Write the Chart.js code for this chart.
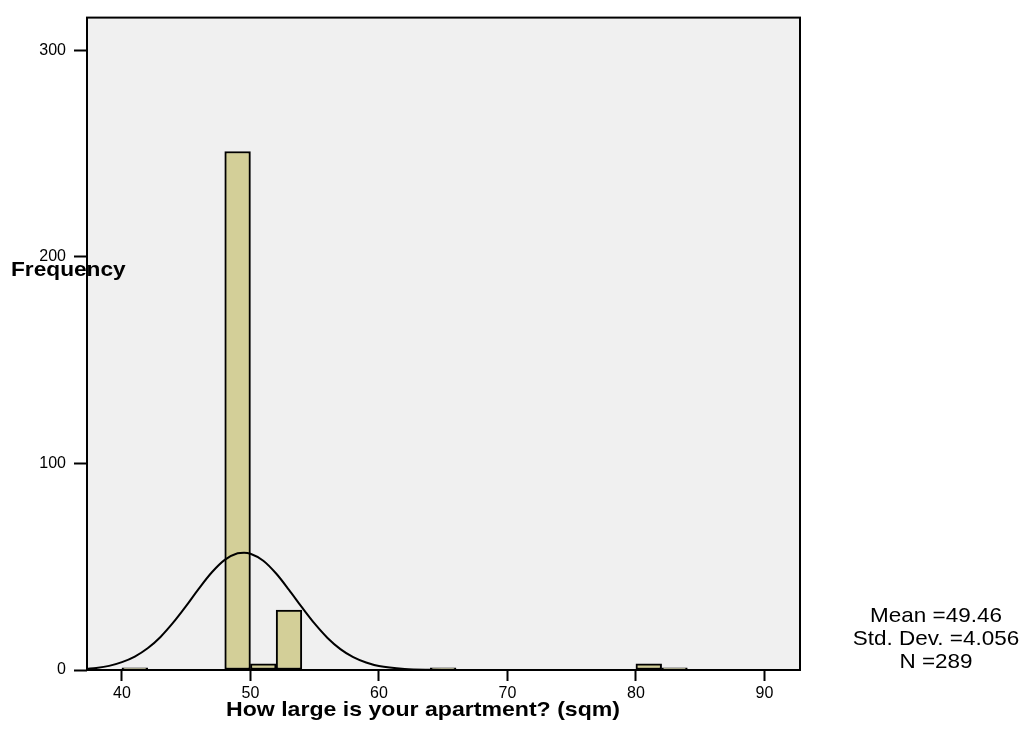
<!DOCTYPE html>
<html>
<head>
<meta charset="utf-8">
<script src="https://cdn.jsdelivr.net/npm/chart.js@4"></script>
<style>
  body { margin: 0; background: #fff; }
  #wrap { width: 1029px; height: 738px; position: relative; }
</style>
</head>
<body>
<div id="wrap"><canvas id="histChart"></canvas></div>
<script>
// Histogram bins (2 sqm wide), only non-empty bins
const binCenters = [41, 49, 51, 53, 65, 81, 83];
const binCounts = [1, 251, 3, 29, 1, 3, 1];

// Normal curve
const curveX = [37.28, 38, 39, 40, 41, 42, 43, 44, 45, 46, 47, 48, 49, 49.5, 50, 51, 52, 53, 54, 55, 56, 57, 58, 59, 60, 62, 64, 66, 70, 80, 92.77];
const curveY = [0.6, 1.0, 2.0, 3.8, 6.5, 10.5, 16.0, 23.0, 31.0, 39.5, 47.3, 53.3, 56.5, 56.8, 56.3, 52.9, 46.7, 38.8, 30.4, 22.4, 15.5, 10.1, 6.2, 3.6, 1.9, 0.5, 0.1, 0, 0, 0, 0];

const statsLines = ["Mean =49.46", "Std. Dev. =4.056", "N =289"];
const yTitle = "Frequency";
const xTitle = "How large is your apartment? (sqm)";

const FONT = "'Liberation Sans', Arial, Helvetica, sans-serif";

// text a little wider than tall, like the original export
function stretchedText(ctx, text, x, y, sx) {
    ctx.save();
    ctx.translate(x, y);
    ctx.scale(sx, 1);
    ctx.fillText(text, 0, 0);
    ctx.restore();
}

// background, frame and the free-standing labels
const spssDecor = {
    id: "spssDecor",
    beforeDraw(chart) {
        const { ctx, chartArea: a } = chart;
        ctx.save();
        ctx.fillStyle = "#f0f0f0";
        ctx.fillRect(a.left, a.top, a.right - a.left, a.bottom - a.top);
        ctx.restore();
    },
    afterDraw(chart) {
        const { ctx, chartArea: a } = chart;
        ctx.save();
        ctx.strokeStyle = "#000";
        ctx.lineWidth = 2;
        ctx.strokeRect(a.left, a.top, a.right - a.left, a.bottom - a.top);

        ctx.fillStyle = "#000";
        ctx.font = "bold 21px " + FONT;
        ctx.textBaseline = "alphabetic";
        ctx.textAlign = "left";
        stretchedText(ctx, yTitle, 11, 276, 1.08);
        ctx.textAlign = "center";
        stretchedText(ctx, xTitle, 423, 716, 1.1);

        ctx.font = "21px " + FONT;
        statsLines.forEach((t, i) => stretchedText(ctx, t, 936, 622 + i * 23, 1.07));
        ctx.restore();
    }
};

const ctx = document.getElementById("histChart").getContext("2d");
new Chart(ctx, {
    type: "bar",
    data: {
        datasets: [
            {
                type: "line",
                data: curveX.map((x, i) => ({ x: x, y: curveY[i] })),
                borderColor: "#000",
                borderWidth: 2,
                pointRadius: 0,
                cubicInterpolationMode: "monotone",
                fill: false,
                order: 0
            },
            {
                type: "bar",
                data: binCenters.map((x, i) => ({ x: x, y: binCounts[i] })),
                backgroundColor: "#d3cf98",
                borderColor: "#000",
                borderWidth: 2,
                borderSkipped: false,
                barPercentage: 1,
                categoryPercentage: 1,
                order: 1
            }
        ]
    },
    options: {
        responsive: true,
        maintainAspectRatio: false,
        animation: false,
        layout: { padding: { top: 12, right: 229, left: 0, bottom: 0 } },
        plugins: {
            legend: { display: false },
            tooltip: { enabled: false }
        },
        scales: {
            x: {
                type: "linear",
                min: 37.28,
                max: 92.77,
                offset: false,
                border: { display: false },
                grid: {
                    offset: false,
                    drawOnChartArea: false,
                    drawTicks: true,
                    tickLength: 11,
                    tickWidth: 2,
                    tickColor: "#000"
                },
                ticks: {
                    stepSize: 10,
                    includeBounds: false,
                    padding: 3,
                    color: "#000",
                    maxRotation: 0,
                    font: { family: FONT, size: 16 }
                },
                afterFit(scale) { scale.height = 68; }
            },
            y: {
                min: 0,
                max: 315.8,
                border: { display: false },
                grid: {
                    drawOnChartArea: false,
                    drawTicks: true,
                    tickLength: 13,
                    tickWidth: 2,
                    tickColor: "#000"
                },
                ticks: {
                    stepSize: 100,
                    includeBounds: false,
                    padding: 8,
                    color: "#000",
                    font: { family: FONT, size: 16 }
                },
                afterFit(scale) { scale.width = 87; }
            }
        }
    },
    plugins: [spssDecor]
});
</script>
</body>
</html>
